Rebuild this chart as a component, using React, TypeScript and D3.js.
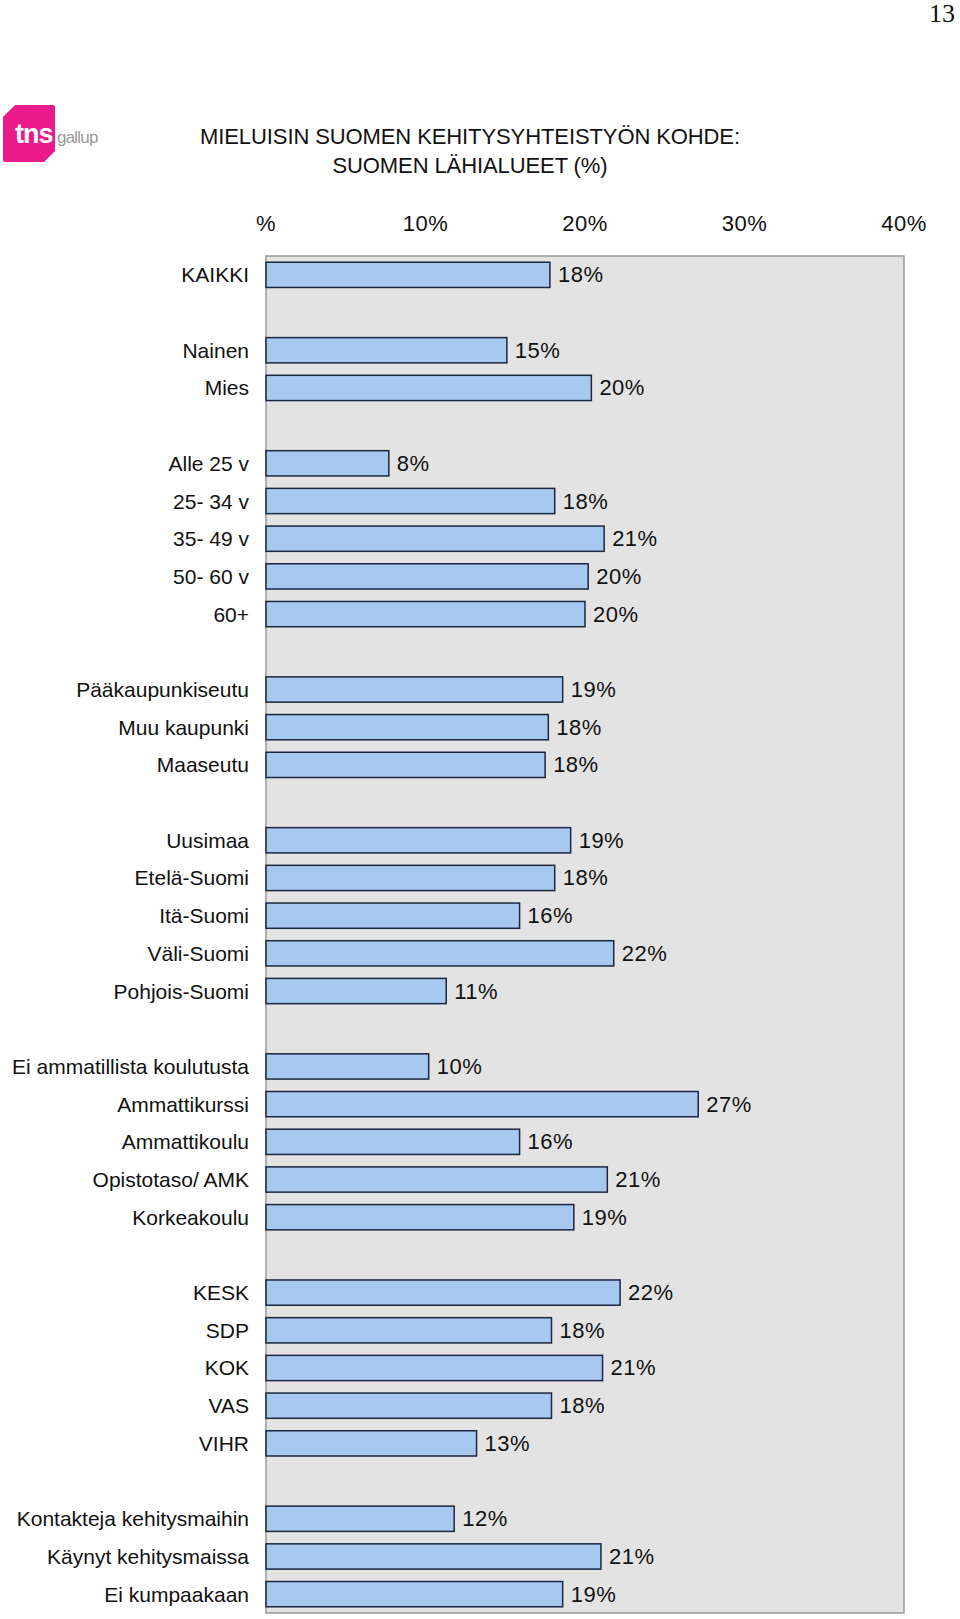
import React from "react";
import * as d3 from "d3";

const titleLines = ["MIELUISIN SUOMEN KEHITYSYHTEISTYÖN KOHDE:", "SUOMEN LÄHIALUEET (%)"];
const tickValues = [0, 10, 20, 30, 40];
const tickLabels = ["%", "10%", "20%", "30%", "40%"];

const categories = [
  "KAIKKI",
  "Nainen", "Mies",
  "Alle 25 v", "25- 34 v", "35- 49 v", "50- 60 v", "60+",
  "Pääkaupunkiseutu", "Muu kaupunki", "Maaseutu",
  "Uusimaa", "Etelä-Suomi", "Itä-Suomi", "Väli-Suomi", "Pohjois-Suomi",
  "Ei ammatillista koulutusta", "Ammattikurssi", "Ammattikoulu", "Opistotaso/ AMK", "Korkeakoulu",
  "KESK", "SDP", "KOK", "VAS", "VIHR",
  "Kontakteja kehitysmaihin", "Käynyt kehitysmaissa", "Ei kumpaakaan",
];
const values = [
  17.8,
  15.1, 20.4,
  7.7, 18.1, 21.2, 20.2, 20.0,
  18.6, 17.7, 17.5,
  19.1, 18.1, 15.9, 21.8, 11.3,
  10.2, 27.1, 15.9, 21.4, 19.3,
  22.2, 17.9, 21.1, 17.9, 13.2,
  11.8, 21.0, 18.6,
];
const valueLabels = [
  "18%",
  "15%", "20%",
  "8%", "18%", "21%", "20%", "20%",
  "19%", "18%", "18%",
  "19%", "18%", "16%", "22%", "11%",
  "10%", "27%", "16%", "21%", "19%",
  "22%", "18%", "21%", "18%", "13%",
  "12%", "21%", "19%",
];
const groupSizes = [1, 2, 5, 3, 5, 5, 5, 3];

const W = 960;
const H = 1619;
const plot = { left: 266, right: 904, top: 256, bottom: 1613 };
const FONT = "'Liberation Sans', Arial, Helvetica, sans-serif";

export default function App() {
  const slots: string[] = [];
  const slotOfCat: string[] = [];
  let idx = 0;
  groupSizes.forEach((n, g) => {
    if (g > 0) slots.push(`gap${g}`);
    for (let i = 0; i < n; i++) {
      const key = `c${idx}`;
      slots.push(key);
      slotOfCat.push(key);
      idx++;
    }
  });

  const x = d3.scaleLinear().domain([0, 40]).range([plot.left, plot.right]);
  const y = d3
    .scaleBand<string>()
    .domain(slots)
    .range([plot.top, plot.bottom])
    .paddingInner(0.33)
    .paddingOuter(0.165);

  const bw = y.bandwidth();

  return (
    <svg
      width={W}
      height={H}
      style={{ position: "absolute", left: 0, top: 0, display: "block", background: "#fff" }}
      fontFamily={FONT}
    >
      <text x={955} y={22} textAnchor="end" fontFamily="'Liberation Serif', 'DejaVu Serif', serif" fontSize={26} fill="#111">
        13
      </text>

      <g>
        <path
          d="M15,105 L53,105 Q55,105 55,107 L55,151 L44,162 L5,162 Q3,162 3,160 L3,117 Z"
          fill="#ec1b8c"
        />
        <text x={15} y={143} fontSize={27} fontWeight="bold" fill="#fff" letterSpacing={-1}>
          tns
        </text>
        <text x={57} y={143} fontSize={17} fill="#9a9a9a" letterSpacing={-0.8}>
          gallup
        </text>
      </g>

      {titleLines.map((t, i) => (
        <text
          key={i}
          x={470}
          y={144 + i * 29}
          textAnchor="middle"
          fontSize={22}
          fill="#111"
          letterSpacing={-0.1}
        >
          {t}
        </text>
      ))}

      {tickValues.map((v, i) => (
        <text key={v} x={x(v)} y={231} textAnchor="middle" fontSize={22} letterSpacing={0.5} fill="#111">
          {tickLabels[i]}
        </text>
      ))}

      <rect
        x={plot.left}
        y={plot.top}
        width={plot.right - plot.left}
        height={plot.bottom - plot.top}
        fill="#e3e3e3"
        stroke="#9a9a9a"
        strokeWidth={1.5}
      />

      {categories.map((c, i) => {
        const key = slotOfCat[i];
        const yy = y(key)!;
        const v = values[i];
        return (
          <g key={c}>
            <rect
              x={x(0)}
              y={yy}
              width={x(v) - x(0)}
              height={bw}
              fill="#a7c9ef"
              stroke="#1b2640"
              strokeWidth={1.5}
            />
            <text x={x(v) + 8} y={yy + bw / 2 + 7.5} fontSize={22} letterSpacing={0.5} fill="#111">
              {valueLabels[i]}
            </text>
            <text x={249} y={yy + bw / 2 + 7.5} textAnchor="end" fontSize={21} fill="#111">
              {c}
            </text>
          </g>
        );
      })}
    </svg>
  );
}
